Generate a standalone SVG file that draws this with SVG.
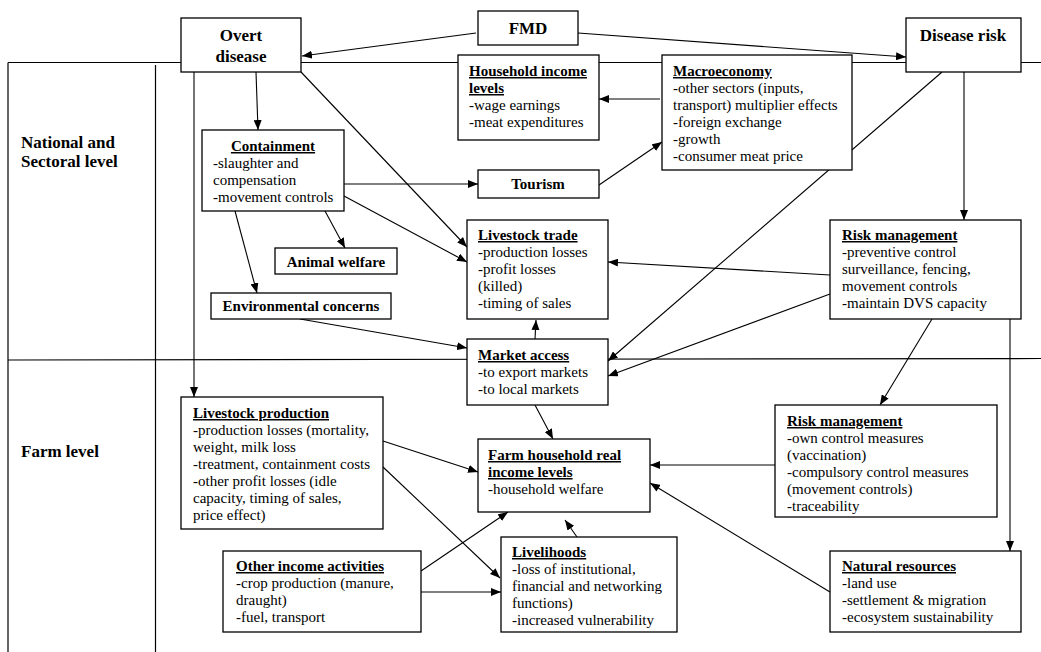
<svg xmlns="http://www.w3.org/2000/svg" width="1041" height="652" viewBox="0 0 1041 652">
<style>
.frame{stroke:#000;stroke-width:1.2;fill:none}
.box{fill:#fff;stroke:#000;stroke-width:1.3}
.c line{stroke:#000;stroke-width:1.1;marker-end:url(#ah)}
text{font-family:"Liberation Serif","Times New Roman",serif;font-size:15px;fill:#000}
.b{font-weight:bold}
.big{font-weight:bold;font-size:17px}
.u{font-weight:bold;text-decoration:underline}
.m{text-anchor:middle}
</style>
<defs>
<marker id="ah" markerUnits="userSpaceOnUse" markerWidth="11" markerHeight="8" refX="10" refY="4" orient="auto">
<path d="M0,0 L10,4 L0,8 z" fill="#000"/>
</marker>
</defs>
<rect width="1041" height="652" fill="#fff"/>
<g id="frame">
<line class="frame" x1="8" y1="62.5" x2="1041" y2="62.5"/>
<line class="frame" x1="8" y1="62.5" x2="8" y2="652"/>
<line class="frame" x1="155.5" y1="65" x2="155.5" y2="652"/>
<line class="frame" x1="8" y1="360" x2="1041" y2="358.5"/>
<text class="big" x="21" y="148">National and</text>
<text class="big" x="21" y="167">Sectoral level</text>
<text class="big" x="21" y="457">Farm level</text>
</g>
<g id="connectors" class="c">
<line x1="476" y1="33" x2="302" y2="56"/>
<line x1="578" y1="33" x2="906" y2="57"/>
<line x1="256" y1="72" x2="258" y2="130"/>
<line x1="194" y1="72" x2="194" y2="397"/>
<line x1="301" y1="72" x2="467" y2="247"/>
<line x1="344" y1="184" x2="478" y2="184"/>
<line x1="344" y1="196" x2="467" y2="262"/>
<line x1="325" y1="211" x2="345" y2="248"/>
<line x1="235" y1="211" x2="257" y2="293"/>
<line x1="599" y1="185" x2="662" y2="142"/>
<line x1="660" y1="99" x2="599" y2="99"/>
<line x1="964" y1="72" x2="964" y2="220"/>
<line x1="942" y1="72" x2="608" y2="361"/>
<line x1="830" y1="275" x2="608" y2="262"/>
<line x1="830" y1="294" x2="608" y2="376"/>
<line x1="300" y1="319" x2="467" y2="348"/>
<line x1="535" y1="339" x2="536" y2="320"/>
<line x1="535" y1="405" x2="553" y2="439"/>
<line x1="932" y1="319" x2="880" y2="405"/>
<line x1="1010" y1="319" x2="1010" y2="551"/>
<line x1="775" y1="465" x2="650" y2="465"/>
<line x1="830" y1="592" x2="650" y2="483"/>
<line x1="383" y1="441" x2="478" y2="472"/>
<line x1="383" y1="467" x2="500" y2="578"/>
<line x1="421" y1="571" x2="508" y2="512"/>
<line x1="421" y1="592" x2="501" y2="592"/>
<line x1="577" y1="537" x2="565" y2="520"/>
</g>
<g id="overt">
<rect class="box" x="181" y="18" width="120" height="54"/>
<text class="big m" x="241" y="41">Overt</text>
<text class="big m" x="241" y="62">disease</text>
</g>
<g id="fmd">
<rect class="box" x="478" y="11" width="100" height="34"/>
<text class="big m" x="528" y="34">FMD</text>
</g>
<g id="disease-risk">
<rect class="box" x="906" y="18" width="115" height="54"/>
<text class="big m" x="963" y="41">Disease risk</text>
</g>
<g id="household-income">
<rect class="box" x="458" y="55" width="141" height="85"/>
<text class="u" x="469" y="76">Household income</text>
<text class="u" x="469" y="93">levels</text>
<text x="469" y="110">-wage earnings</text>
<text x="469" y="127">-meat expenditures</text>
</g>
<g id="macroeconomy">
<rect class="box" x="662" y="55" width="190" height="115"/>
<text class="u" x="673" y="76">Macroeconomy</text>
<text x="673" y="93">-other sectors (inputs,</text>
<text x="673" y="110">transport) multiplier effects</text>
<text x="673" y="127">-foreign exchange</text>
<text x="673" y="144">-growth</text>
<text x="673" y="161">-consumer meat price</text>
</g>
<g id="containment">
<rect class="box" x="202" y="130" width="142" height="81"/>
<text class="u m" x="273" y="151">Containment</text>
<text x="213" y="168">-slaughter and</text>
<text x="213" y="185">compensation</text>
<text x="213" y="202">-movement controls</text>
</g>
<g id="tourism">
<rect class="box" x="478" y="170" width="121" height="28"/>
<text class="b m" x="538" y="189">Tourism</text>
</g>
<g id="animal-welfare">
<rect class="box" x="275" y="248" width="122" height="26"/>
<text class="b m" x="336" y="267">Animal welfare</text>
</g>
<g id="environmental">
<rect class="box" x="211" y="293" width="180" height="26"/>
<text class="b m" x="301" y="311">Environmental concerns</text>
</g>
<g id="livestock-trade">
<rect class="box" x="467" y="220" width="141" height="99"/>
<text class="u" x="478" y="240">Livestock trade</text>
<text x="478" y="257">-production losses</text>
<text x="478" y="274">-profit losses</text>
<text x="478" y="291">(killed)</text>
<text x="478" y="308">-timing of sales</text>
</g>
<g id="market-access">
<rect class="box" x="467" y="339" width="141" height="66"/>
<text class="u" x="478" y="360">Market access</text>
<text x="478" y="377">-to export markets</text>
<text x="478" y="394">-to local markets</text>
</g>
<g id="risk-management-national">
<rect class="box" x="830" y="220" width="191" height="99"/>
<text class="u" x="842" y="240">Risk management</text>
<text x="842" y="257">-preventive control</text>
<text x="842" y="274">surveillance, fencing,</text>
<text x="842" y="291">movement controls</text>
<text x="842" y="308">-maintain DVS capacity</text>
</g>
<g id="livestock-production">
<rect class="box" x="181" y="397" width="202" height="132"/>
<text class="u" x="193" y="418">Livestock production</text>
<text x="193" y="435">-production losses (mortality,</text>
<text x="193" y="452">weight, milk loss</text>
<text x="193" y="469">-treatment, containment costs</text>
<text x="193" y="486">-other profit losses (idle</text>
<text x="193" y="503">capacity, timing of sales,</text>
<text x="193" y="520">price effect)</text>
</g>
<g id="farm-household">
<rect class="box" x="478" y="439" width="172" height="73"/>
<text class="u" x="488" y="460">Farm household real</text>
<text class="u" x="488" y="477">income levels</text>
<text x="488" y="494">-household welfare</text>
</g>
<g id="risk-management-farm">
<rect class="box" x="775" y="405" width="222" height="112"/>
<text class="u" x="787" y="426">Risk management</text>
<text x="787" y="443">-own control measures</text>
<text x="787" y="460">(vaccination)</text>
<text x="787" y="477">-compulsory control measures</text>
<text x="787" y="494">(movement controls)</text>
<text x="787" y="511">-traceability</text>
</g>
<g id="other-income">
<rect class="box" x="223" y="551" width="198" height="81"/>
<text class="u" x="236" y="571">Other income activities</text>
<text x="236" y="588">-crop production (manure,</text>
<text x="236" y="605">draught)</text>
<text x="236" y="622">-fuel, transport</text>
</g>
<g id="livelihoods">
<rect class="box" x="501" y="537" width="176" height="95"/>
<text class="u" x="512" y="557">Livelihoods</text>
<text x="512" y="574">-loss of institutional,</text>
<text x="512" y="591">financial and networking</text>
<text x="512" y="608">functions)</text>
<text x="512" y="625">-increased vulnerability</text>
</g>
<g id="natural-resources">
<rect class="box" x="830" y="551" width="191" height="81"/>
<text class="u" x="842" y="571">Natural resources</text>
<text x="842" y="588">-land use</text>
<text x="842" y="605">-settlement &amp; migration</text>
<text x="842" y="622">-ecosystem sustainability</text>
</g>
</svg>
